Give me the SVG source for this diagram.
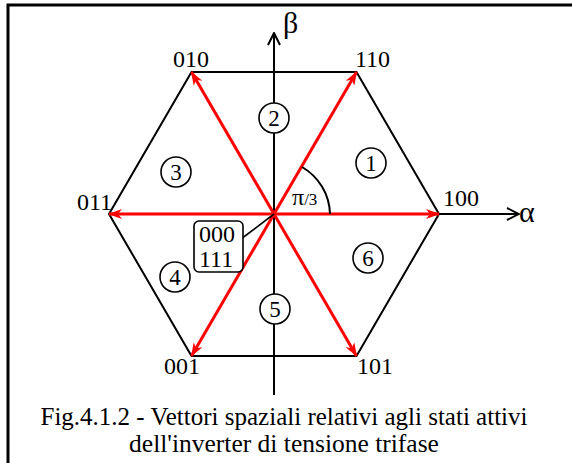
<svg xmlns="http://www.w3.org/2000/svg" width="572" height="463" viewBox="0 0 572 463">
<defs>
<style>
text{font-family:"Liberation Serif","Times New Roman",serif;fill:#000}
.lbl{font-size:24px}
.num{font-size:23px;text-anchor:middle}
.blk{stroke:#000;stroke-width:2;fill:none}
.red{stroke:#ff0000;stroke-width:3;fill:none;marker-end:url(#ra)}
.circ{stroke:#000;stroke-width:1.6;fill:#fff}
</style>
<marker id="ra" viewBox="0 0 14 10" refX="13" refY="5" markerWidth="14" markerHeight="10" markerUnits="userSpaceOnUse" orient="auto">
<path d="M0,0 L14,5 L0,10 L4,5 Z" fill="#ff0000"/>
</marker>
<marker id="ba" viewBox="0 0 14 14" refX="13" refY="7" markerWidth="14" markerHeight="14" markerUnits="userSpaceOnUse" orient="auto">
<path d="M1,1 L13,7 L1,13" fill="none" stroke="#000" stroke-width="2"/>
</marker>
</defs>
<rect x="8" y="5" width="620" height="520" fill="#fff" stroke="#000" stroke-width="3"/>
<g id="axes">
<line class="blk" x1="274" y1="395" x2="274" y2="33" marker-end="url(#ba)"/>
<line class="blk" x1="109" y1="214" x2="519" y2="214" marker-end="url(#ba)"/>
</g>
<g id="hexagon">
<polygon class="blk" points="439,214 356.5,72 191.5,72 109,214 191.5,356 356.5,356"/>
</g>
<g id="connectors">
<line class="red" x1="274" y1="214" x2="439" y2="214"/>
<line class="red" x1="274" y1="214" x2="356.5" y2="72"/>
<line class="red" x1="274" y1="214" x2="191.5" y2="72"/>
<line class="red" x1="274" y1="214" x2="109" y2="214"/>
<line class="red" x1="274" y1="214" x2="191.5" y2="356"/>
<line class="red" x1="274" y1="214" x2="356.5" y2="356"/>
<path class="blk" d="M302,167 A56,56 0 0 1 330,214"/>
<line x1="241" y1="239" x2="274" y2="214" stroke="#000" stroke-width="1.6"/>
</g>
<g id="axis-labels">
<text x="283" y="33" style="font-size:30px">β</text>
<text x="519" y="222" style="font-size:30px">α</text>
<text x="292" y="205" style="font-size:24px">π<tspan style="font-size:17px">/3</tspan></text>
</g>
<g id="v100"><text class="lbl" x="443" y="206">100</text></g>
<g id="v110"><text class="lbl" x="355" y="67">110</text></g>
<g id="v010"><text class="lbl" x="173" y="67">010</text></g>
<g id="v011"><text class="lbl" x="77" y="210">011</text></g>
<g id="v001"><text class="lbl" x="164" y="374">001</text></g>
<g id="v101"><text class="lbl" x="357" y="374">101</text></g>
<g id="zero">
<rect x="194" y="221" width="49" height="51" rx="5" fill="#fff" stroke="#000" stroke-width="1.6"/>
<text class="lbl" x="199" y="242">000</text>
<text class="lbl" x="199" y="267">111</text>
</g>
<g id="s1"><circle class="circ" cx="371" cy="163" r="15"/><text class="num" x="371" y="171">1</text></g>
<g id="s2"><circle class="circ" cx="274" cy="118" r="15"/><text class="num" x="274" y="126">2</text></g>
<g id="s3"><circle class="circ" cx="176" cy="172" r="15"/><text class="num" x="176" y="180">3</text></g>
<g id="s4"><circle class="circ" cx="175" cy="277" r="15"/><text class="num" x="175" y="285">4</text></g>
<g id="s5"><circle class="circ" cx="275" cy="309" r="15"/><text class="num" x="275" y="317">5</text></g>
<g id="s6"><circle class="circ" cx="368" cy="258" r="15"/><text class="num" x="368" y="266">6</text></g>
<g id="caption">
<text x="284" y="425" style="font-size:25px;text-anchor:middle">Fig.4.1.2 - Vettori spaziali relativi agli stati attivi</text>
<text x="284" y="452" style="font-size:25.5px;text-anchor:middle">dell'inverter di tensione trifase</text>
</g>
</svg>
